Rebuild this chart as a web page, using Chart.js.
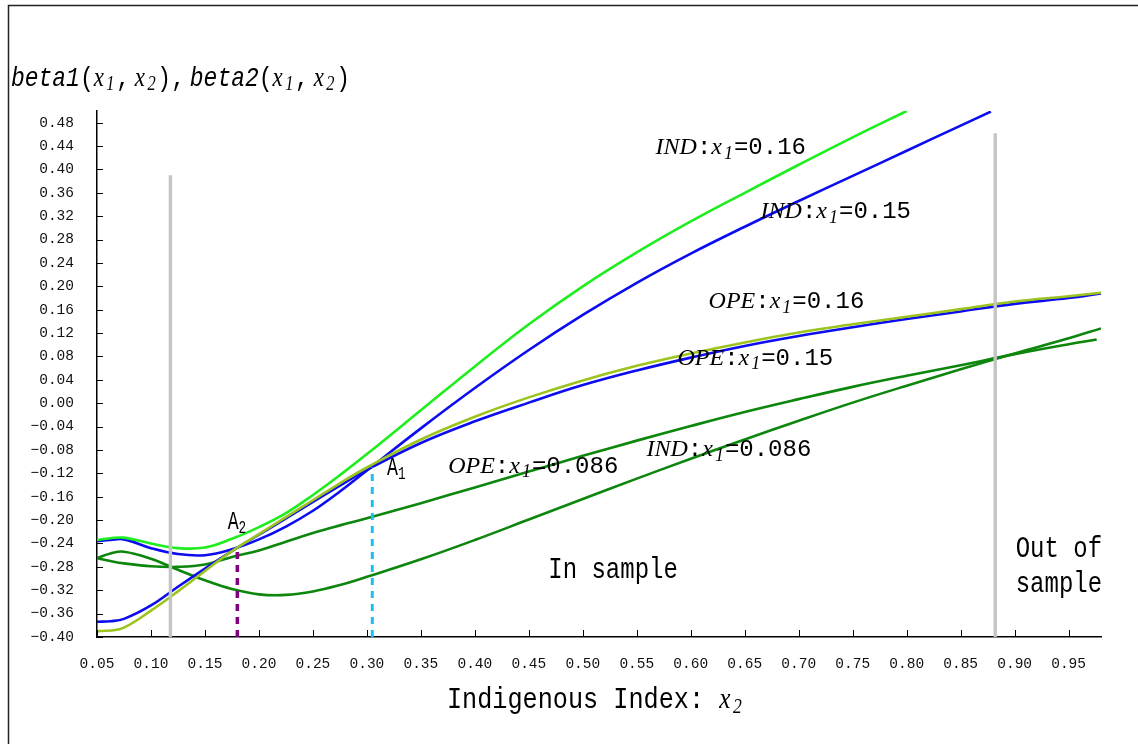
<!DOCTYPE html>
<html>
<head>
<meta charset="utf-8">
<script src="https://cdn.jsdelivr.net/npm/chart.js@4.4.1/dist/chart.umd.min.js"></script>
<style>
html, body { margin: 0; padding: 0; background: #fff; }
#wrap { width: 1138px; height: 744px; position: relative; }
</style>
</head>
<body>
<div id="wrap"><canvas id="betaChart"></canvas></div>
<script>
// x2 grid and curve values, beta(x1, x2)
var gridX = [0.05, 0.0625, 0.075, 0.10, 0.125, 0.15, 0.175, 0.20, 0.225, 0.25, 0.275, 0.30,
             0.35, 0.40, 0.45, 0.50, 0.55, 0.60, 0.65, 0.70, 0.75, 0.80, 0.85, 0.90, 0.95, 0.98];

var ind16X = gridX.slice(0, 22);
var ind16 = [-0.234, -0.231, -0.230, -0.240, -0.248, -0.247, -0.232, -0.212, -0.188, -0.157, -0.123, -0.087,
             -0.012, 0.063, 0.135, 0.200, 0.258, 0.311, 0.360, 0.408, 0.455, 0.500];

var ind15X = gridX.slice(0, 23).concat([0.878]);
var ind15 = [-0.236, -0.234, -0.233, -0.248, -0.258, -0.260, -0.250, -0.233, -0.211, -0.184, -0.151, -0.115,
             -0.043, 0.026, 0.091, 0.151, 0.206, 0.256, 0.302, 0.346, 0.389, 0.432, 0.475, 0.499];

var ope16 = [-0.390, -0.389, -0.384, -0.355, -0.322, -0.287, -0.253, -0.224, -0.195, -0.166, -0.137, -0.110,
             -0.062, -0.023, 0.010, 0.039, 0.064, 0.085, 0.104, 0.121, 0.135, 0.148, 0.161, 0.174, 0.183, 0.189];

var ope15 = [-0.374, -0.373, -0.369, -0.346, -0.314, -0.283, -0.253, -0.225, -0.197, -0.169, -0.141, -0.114,
             -0.068, -0.031, 0.001, 0.031, 0.056, 0.078, 0.098, 0.115, 0.130, 0.144, 0.157, 0.170, 0.180, 0.188];

var ope086X = gridX.slice(0, 25).concat([0.976]);
var ope086 = [-0.265, -0.270, -0.274, -0.279, -0.280, -0.276, -0.263, -0.252, -0.237, -0.222, -0.209, -0.197,
              -0.171, -0.144, -0.117, -0.090, -0.064, -0.039, -0.015, 0.007, 0.028, 0.047, 0.065, 0.084, 0.101, 0.109];

var ind086 = [-0.265, -0.257, -0.254, -0.266, -0.285, -0.303, -0.318, -0.327, -0.328, -0.322, -0.311, -0.297,
              -0.267, -0.234, -0.199, -0.164, -0.129, -0.095, -0.062, -0.030, 0.001, 0.030, 0.058, 0.085, 0.111, 0.128];

// in-sample bounds and the two crossing points A1, A2
var sampleBounds = [0.118, 0.882];
var boundTops = [0.39, 0.462];
var crossX = [0.305, 0.18];
var crossY = [-0.11, -0.25];

var yMin = -0.40, yMax = 0.50, yStep = 0.04;
var xMin = 0.05, xMax = 0.98, xStep = 0.05;

var MONO = '"Liberation Mono", "DejaVu Sans Mono", monospace';
var SERIF = '"Liberation Serif", "DejaVu Serif", serif';

function pts(xs, ys) {
    return xs.map(function (v, i) { return {x: v, y: ys[i]}; });
}

function curve(xs, ys, color) {
    return {
        data: pts(xs, ys),
        borderColor: color,
        borderWidth: 2.6,
        pointRadius: 0,
        tension: 0.4,
        fill: false
    };
}

function vline(x, top, color, width, dash) {
    return {
        data: [{x: x, y: yMin}, {x: x, y: top}],
        borderColor: color,
        borderWidth: width,
        borderDash: dash || [],
        pointRadius: 0,
        tension: 0,
        fill: false
    };
}

function eqParts(tag, val) {
    return [
        {t: tag, f: 'italic 24px ' + SERIF},
        {t: ':', f: '24px ' + MONO},
        {t: 'x', f: 'italic 24px ' + SERIF, gap: 2},
        {t: '1', f: 'italic 18px ' + SERIF, dy: 6, gap: 1},
        {t: '=' + val, f: '24px ' + MONO}
    ];
}

function aParts(n) {
    return [
        {t: 'A', f: '26px ' + MONO},
        {t: n, f: '18px ' + MONO, dy: 6}
    ];
}

function betaParts(name) {
    return [
        {t: name, f: 'italic 28px ' + MONO},
        {t: '(', f: '28px ' + MONO},
        {t: 'x', f: 'italic 28px ' + SERIF, gap: 3},
        {t: '1', f: 'italic 20px ' + SERIF, dy: 6, gap: 2},
        {t: ',', f: '28px ' + MONO, gap: 6},
        {t: 'x', f: 'italic 28px ' + SERIF, gap: 3},
        {t: '2', f: 'italic 20px ' + SERIF, dy: 6, gap: 2},
        {t: ')', f: '28px ' + MONO}
    ];
}

var notes = [
    {x: 0.5674, y: 0.437, sx: 1, parts: eqParts('IND', '0.16')},
    {x: 0.6647, y: 0.327, sx: 1, parts: eqParts('IND', '0.15')},
    {x: 0.6165, y: 0.173, sx: 1, parts: eqParts('OPE', '0.16')},
    {x: 0.5877, y: 0.077, sx: 1, parts: eqParts('OPE', '0.15')},
    {x: 0.3753, y: -0.108, sx: 1, parts: eqParts('OPE', '0.086')},
    {x: 0.559, y: -0.080, sx: 1, parts: eqParts('IND', '0.086')},
    {x: 0.3187, y: -0.111, sx: 0.7, parts: aParts('1')},
    {x: 0.171, y: -0.204, sx: 0.7, parts: aParts('2')},
    {x: 0.468, y: -0.286, sx: 0.8, parts: [{t: 'In sample', f: '30px ' + MONO}]},
    {x: 0.901, y: -0.249, sx: 0.8, parts: [{t: 'Out of', f: '30px ' + MONO}]},
    {x: 0.901, y: -0.310, sx: 0.8, parts: [{t: 'sample', f: '30px ' + MONO}]}
];

function drawRich(ctx, x, y, parts, sx) {
    ctx.save();
    ctx.translate(x, y);
    ctx.scale(sx, 1);
    ctx.textBaseline = 'middle';
    ctx.textAlign = 'left';
    ctx.fillStyle = '#000';
    var cx = 0;
    parts.forEach(function (p) {
        ctx.font = p.f;
        ctx.fillText(p.t, cx, p.dy || 0);
        cx += ctx.measureText(p.t).width + (p.gap || 0);
    });
    ctx.restore();
}

var fmt = function (v) {
    return v.toFixed(2).replace('-', '\u2212');
};

var decor = {
    id: 'decor',
    beforeDraw: function (chart) {
        var ctx = chart.ctx;
        ctx.save();
        ctx.fillStyle = '#fff';
        ctx.fillRect(0, 0, chart.width, chart.height);
        ctx.strokeStyle = '#222';
        ctx.lineWidth = 1.5;
        ctx.strokeRect(8.5, 5.5, chart.width + 20, chart.height + 20);
        ctx.restore();
    },
    afterDraw: function (chart) {
        var ctx = chart.ctx, a = chart.chartArea;
        var xs = chart.scales.x, ys = chart.scales.y;
        ctx.save();
        ctx.strokeStyle = '#000';
        ctx.lineWidth = 1;
        ys.ticks.forEach(function (t) {
            var py = Math.round(ys.getPixelForValue(t.value)) + 0.5;
            ctx.beginPath();
            ctx.moveTo(a.left, py);
            ctx.lineTo(a.left + 6, py);
            ctx.stroke();
        });
        xs.ticks.forEach(function (t) {
            var px = Math.round(xs.getPixelForValue(t.value)) + 0.5;
            ctx.beginPath();
            ctx.moveTo(px, a.bottom);
            ctx.lineTo(px, a.bottom - 7);
            ctx.stroke();
        });
        ctx.restore();

        notes.forEach(function (n) {
            drawRich(ctx, xs.getPixelForValue(n.x), ys.getPixelForValue(n.y), n.parts, n.sx);
        });

        // axis titles
        var yTitle = betaParts('beta1').concat([{t: ',', f: '28px ' + MONO, gap: 6}]).concat(betaParts('beta2'));
        drawRich(ctx, 11, 79, yTitle, 0.82);
        drawRich(ctx, 447, 700, [
            {t: 'Indigenous Index: ', f: '30px ' + MONO},
            {t: 'x', f: 'italic 30px ' + SERIF, gap: 3},
            {t: '2', f: 'italic 21px ' + SERIF, dy: 7}
        ], 0.84);
    }
};

new Chart(document.getElementById('betaChart'), {
    type: 'line',
    data: {
        datasets: [
            vline(sampleBounds[0], boundTops[0], '#c4c4c4', 3.4),
            vline(sampleBounds[1], boundTops[1], '#c4c4c4', 3.4),
            vline(crossX[0], crossY[0], '#1ebef0', 3, [7, 6]),
            vline(crossX[1], crossY[1], '#800080', 3.5, [7, 6]),
            curve(gridX, ope16, '#9cc41e'),
            curve(gridX, ope15, '#0c0cf0'),
            curve(ind16X, ind16, '#1eee1e'),
            curve(ind15X, ind15, '#0c0cf0'),
            curve(ope086X, ope086, '#0c860c'),
            curve(gridX, ind086, '#0c860c')
        ]
    },
    options: {
        responsive: true,
        maintainAspectRatio: false,
        animation: false,
        layout: { padding: { left: 0, right: 37, top: 111, bottom: 67 } },
        plugins: { legend: { display: false }, tooltip: { enabled: false } },
        scales: {
            x: {
                type: 'linear',
                min: xMin,
                max: xMax,
                grid: { display: false },
                border: { display: true, color: '#000', width: 1.5 },
                afterFit: function (s) { s.height = 40; },
                ticks: {
                    stepSize: xStep,
                    includeBounds: false,
                    autoSkip: false,
                    maxRotation: 0,
                    padding: 10,
                    color: '#111',
                    font: { family: MONO, size: 14.5 },
                    callback: fmt
                }
            },
            y: {
                type: 'linear',
                min: yMin,
                max: yMax,
                grid: { display: false },
                border: { display: true, color: '#000', width: 1.5 },
                afterFit: function (s) { s.width = 97; },
                ticks: {
                    stepSize: yStep,
                    includeBounds: false,
                    autoSkip: false,
                    padding: 15,
                    color: '#111',
                    font: { family: MONO, size: 14.5 },
                    callback: fmt
                }
            }
        }
    },
    plugins: [decor]
});
</script>
</body>
</html>
